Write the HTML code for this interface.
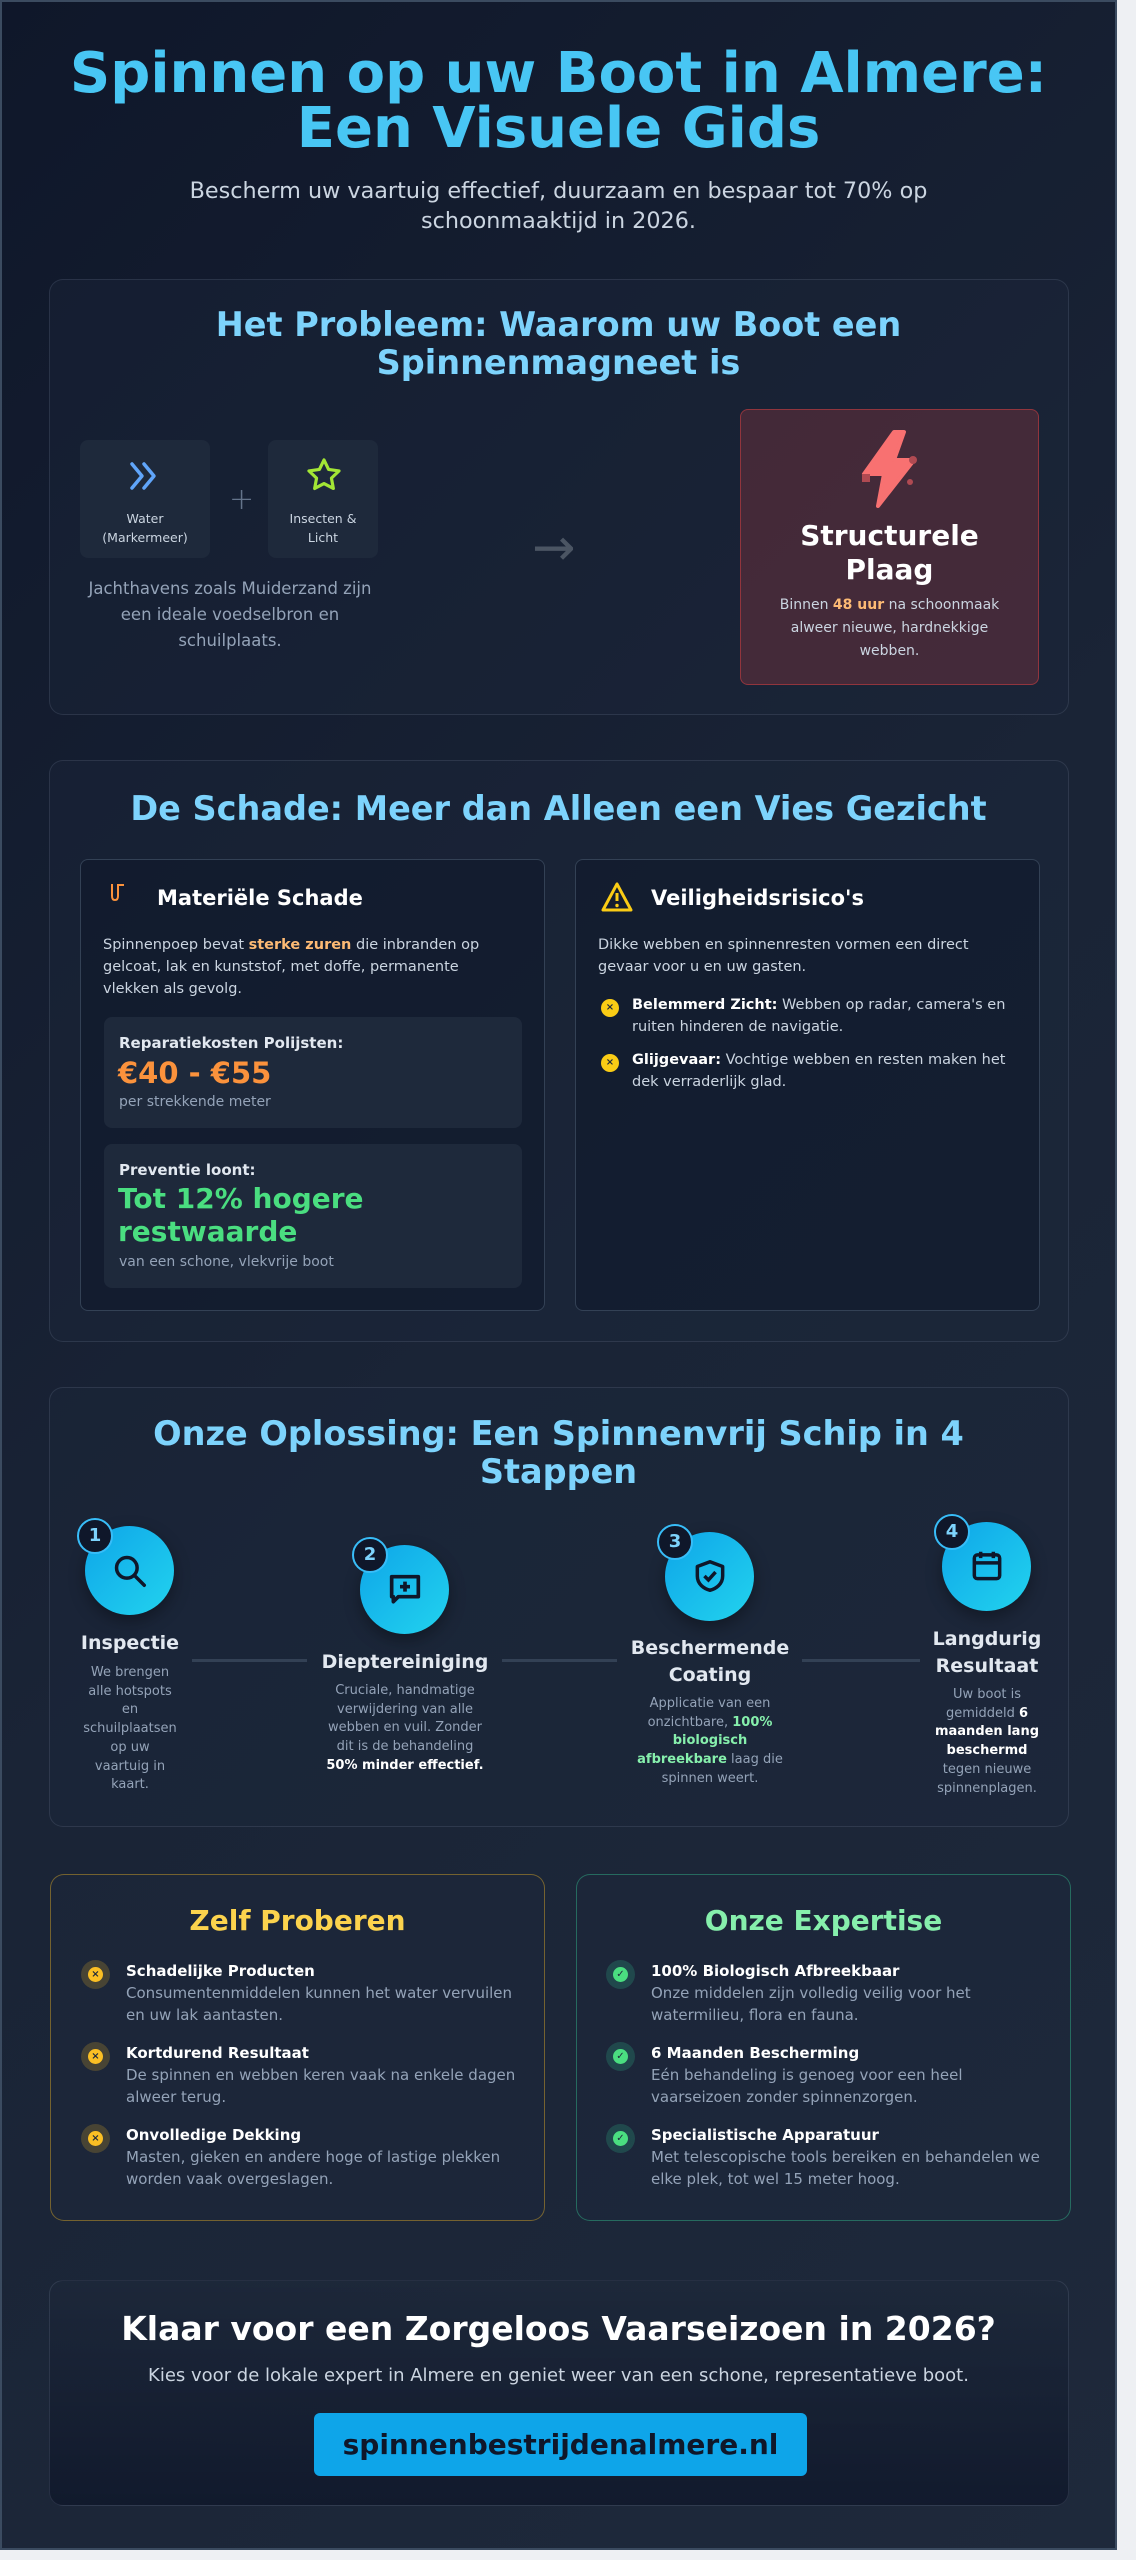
<!DOCTYPE html>
<html><head><meta charset="utf-8">
<style>
*{margin:0;padding:0;box-sizing:border-box}
body{width:1136px;height:2560px;background:#eef0f3;font-family:"DejaVu Sans","Liberation Sans",sans-serif;overflow:hidden;position:relative}
#panel{position:absolute;left:0;top:0;width:1117px;height:2550px;border:2px solid #3b4b60;background:linear-gradient(135deg,#0f172a 0%,#1a2436 50%,#1e293b 100%);overflow:hidden}
.a{position:absolute}
.c{text-align:center}
.card{position:absolute;border:1px solid rgba(148,163,184,0.16);border-radius:14px;background:rgba(30,41,59,0.35)}
.h2{position:absolute;left:0;width:100%;text-align:center;color:#7dd3fc;font-weight:bold;font-size:33.5px;line-height:38px}
.sub{position:absolute;border:1px solid #334155;border-radius:8px;background:rgba(15,23,42,0.55)}
.p{font-size:14.5px;line-height:22px;color:#cbd5e1}
.box{position:absolute;background:#1e293b;border-radius:8px}
.stc{position:absolute;width:89px;height:89px;border-radius:50%;background:linear-gradient(135deg,#0ea5e9,#22d3ee);box-shadow:0 6px 16px rgba(0,0,0,.35)}
.bd{position:absolute;width:36px;height:36px;border-radius:50%;background:#0f172a;border:2px solid #38bdf8;color:#7dd3fc;font-weight:bold;font-size:18px;line-height:32px;text-align:center;left:-8px;top:-8px}
.st{position:absolute;text-align:center;color:#e2e8f0;font-weight:bold;font-size:19px;line-height:27px}
.sd{position:absolute;text-align:center;color:#94a3b8;font-size:13px;line-height:18.7px}
.sd b{color:#fff}
.ln{position:absolute;height:3px;background:#334155;top:1657px}
.it{position:absolute;font-size:15px;line-height:22px;color:#94a3b8}
.it b{color:#fff;display:block}
.ic{position:absolute;width:29px;height:29px;border-radius:50%}
.ic i{position:absolute;left:7px;top:7px;width:15px;height:15px;border-radius:50%;font-style:normal;font-size:10px;line-height:15px;text-align:center;font-weight:bold;color:#1e293b}
</style></head><body>
<div id="panel">
<div class="a c" style="left:0;width:1113px;top:44px;font-size:56px;line-height:55px;font-weight:bold;color:#48c6f4">Spinnen op uw Boot in Almere:<br>Een Visuele Gids</div>
<div class="a c" style="left:0;width:1113px;top:174px;font-size:22.3px;line-height:30px;color:#cbd5e1">Bescherm uw vaartuig effectief, duurzaam en bespaar tot 70% op<br>schoonmaaktijd in 2026.</div>

<!-- Section 1 -->
<div class="card" style="left:47px;top:277px;width:1020px;height:436px"></div>
<div class="h2" style="top:304px;width:1113px">Het Probleem: Waarom uw Boot een<br>Spinnenmagneet is</div>
<div class="box" style="left:78px;top:438px;width:130px;height:118px"></div>
<div class="box" style="left:266px;top:438px;width:110px;height:118px"></div>
<svg class="a" style="left:126px;top:458px" width="36" height="32" viewBox="0 0 36 32"><path d="M4 4l10 12-10 12M16 4l10 12-10 12" fill="none" stroke="#60a5fa" stroke-width="3.5" stroke-linecap="round" stroke-linejoin="round"/></svg>
<svg class="a" style="left:303px;top:454px" width="38" height="38" viewBox="0 0 24 24"><path d="M12 2.5l2.9 6 6.6.9-4.8 4.6 1.2 6.5L12 17.4l-5.9 3.1 1.2-6.5L2.5 9.4l6.6-.9z" fill="none" stroke="#a3e635" stroke-width="2" stroke-linejoin="round"/></svg>
<div class="a c" style="left:78px;width:130px;top:507px;font-size:12.5px;line-height:19px;color:#cbd5e1">Water<br>(Markermeer)</div>
<div class="a c" style="left:266px;width:110px;top:507px;font-size:12.5px;line-height:19px;color:#cbd5e1">Insecten &amp;<br>Licht</div>
<div class="a" style="left:227px;top:480px;font-size:30px;color:#64748b;font-weight:200">+</div>
<div class="a c" style="left:78px;width:300px;top:574px;font-size:16.5px;line-height:26px;color:#94a3b8">Jachthavens zoals Muiderzand zijn<br>een ideale voedselbron en<br>schuilplaats.</div>
<div class="a" style="left:530px;top:516px;font-size:52px;color:#4b5563;line-height:60px">→</div>
<div class="a" style="left:738px;top:407px;width:299px;height:276px;border-radius:8px;background:rgba(239,68,68,0.2);border:1px solid rgba(239,68,68,0.45)"></div>
<svg class="a" style="left:852px;top:428px" width="72" height="78" viewBox="0 0 72 78"><path d="M40 2L10 44h20L24 76 60 30H40L50 2z" fill="#f87171" stroke="#f87171" stroke-width="4" stroke-linejoin="round"/><rect x="8" y="44" width="8" height="8" fill="#b04a52"/><circle cx="56" cy="52" r="3" fill="#b04a52"/><circle cx="59" cy="30" r="4" fill="#b04a52"/></svg>
<div class="a c" style="left:738px;width:299px;top:517px;font-size:28px;line-height:34px;font-weight:bold;color:#fff">Structurele<br>Plaag</div>
<div class="a c" style="left:758px;width:259px;top:592px;font-size:14px;line-height:23px;color:#cbd5e1">Binnen <b style="color:#fdba74">48 uur</b> na schoonmaak alweer nieuwe, hardnekkige webben.</div>

<!-- Section 2 -->
<div class="card" style="left:47px;top:758px;width:1020px;height:582px"></div>
<div class="h2" style="top:788px;width:1113px">De Schade: Meer dan Alleen een Vies Gezicht</div>
<div class="sub" style="left:78px;top:857px;width:465px;height:452px"></div>
<div class="sub" style="left:573px;top:857px;width:465px;height:452px"></div>
<svg class="a" style="left:106px;top:880px" width="22" height="22" viewBox="0 0 22 22"><path d="M4 2v12q0 4 3 4t3-4V2M10 3h6" fill="none" stroke="#fb923c" stroke-width="2"/></svg>
<div class="a" style="left:155px;top:884px;font-size:21px;font-weight:bold;color:#fff">Materiële Schade</div>
<div class="a p" style="left:101px;top:932px;width:400px">Spinnenpoep bevat <b style="color:#fdba74">sterke zuren</b> die inbranden op gelcoat, lak en kunststof, met doffe, permanente vlekken als gevolg.</div>
<div class="box" style="left:102px;top:1015px;width:418px;height:111px"></div>
<div class="a" style="left:117px;top:1032px;font-size:15px;font-weight:bold;color:#e2e8f0">Reparatiekosten Polijsten:</div>
<div class="a" style="left:116px;top:1054px;font-size:29px;font-weight:bold;color:#fb923c">€40 - €55</div>
<div class="a" style="left:117px;top:1092px;font-size:14px;color:#94a3b8">per strekkende meter</div>
<div class="box" style="left:102px;top:1142px;width:418px;height:144px"></div>
<div class="a" style="left:117px;top:1159px;font-size:15px;font-weight:bold;color:#e2e8f0">Preventie loont:</div>
<div class="a" style="left:116px;top:1180px;font-size:28px;line-height:33px;font-weight:bold;color:#4ade80">Tot 12% hogere<br>restwaarde</div>
<div class="a" style="left:117px;top:1252px;font-size:14px;color:#94a3b8">van een schone, vlekvrije boot</div>
<svg class="a" style="left:599px;top:880px" width="32" height="30" viewBox="0 0 32 30"><path d="M16 2L2 28h28z" fill="none" stroke="#facc15" stroke-width="3" stroke-linejoin="round"/><path d="M16 11v8" stroke="#facc15" stroke-width="3"/><circle cx="16" cy="23.5" r="1.7" fill="#facc15"/></svg>
<div class="a" style="left:649px;top:884px;font-size:21px;font-weight:bold;color:#fff">Veiligheidsrisico's</div>
<div class="a p" style="left:596px;top:932px;width:410px">Dikke webben en spinnenresten vormen een direct<br>gevaar voor u en uw gasten.</div>
<div class="ic" style="left:599px;top:997px;width:18px;height:18px;background:#facc15;font-size:10px;line-height:18px;text-align:center;color:#1e293b;font-weight:bold">×</div>
<div class="a p" style="left:630px;top:992px;width:400px;font-size:14.5px"><b style="color:#fff">Belemmerd Zicht:</b> Webben op radar, camera's en ruiten hinderen de navigatie.</div>
<div class="ic" style="left:599px;top:1052px;width:18px;height:18px;background:#facc15;font-size:10px;line-height:18px;text-align:center;color:#1e293b;font-weight:bold">×</div>
<div class="a p" style="left:630px;top:1047px;width:400px;font-size:14.5px"><b style="color:#fff">Glijgevaar:</b> Vochtige webben en resten maken het dek verraderlijk glad.</div>

<!-- Section 3 -->
<div class="card" style="left:47px;top:1385px;width:1020px;height:440px"></div>
<div class="h2" style="top:1413px;width:1113px">Onze Oplossing: Een Spinnenvrij Schip in 4<br>Stappen</div>
<div class="ln" style="left:190px;width:115px"></div>
<div class="ln" style="left:500px;width:115px"></div>
<div class="ln" style="left:800px;width:118px"></div>
<div class="stc" style="left:83px;top:1524px"><div class="bd">1</div><svg class="a" style="left:26px;top:26px" width="38" height="38" viewBox="0 0 24 24"><circle cx="10" cy="10" r="6.5" fill="none" stroke="#0f172a" stroke-width="2.2"/><path d="M15 15l6 6" stroke="#0f172a" stroke-width="2.2" stroke-linecap="round"/></svg></div>
<div class="stc" style="left:358px;top:1543px"><div class="bd">2</div><svg class="a" style="left:25px;top:25px" width="40" height="40" viewBox="0 0 24 24"><path d="M4 4h16v12H8l-3 3v-3H4z" fill="none" stroke="#0f172a" stroke-width="2.2" stroke-linejoin="round"/><path d="M12 7v6M9 10h6" stroke="#0f172a" stroke-width="2.2"/></svg></div>
<div class="stc" style="left:663px;top:1530px"><div class="bd">3</div><svg class="a" style="left:26px;top:25px" width="38" height="38" viewBox="0 0 24 24"><path d="M12 3l8 3v6c0 5-4 8-8 9-4-1-8-4-8-9V6z" fill="none" stroke="#0f172a" stroke-width="2.2" stroke-linejoin="round"/><path d="M8.5 12l2.5 2.5 4.5-5" fill="none" stroke="#0f172a" stroke-width="2.2"/></svg></div>
<div class="stc" style="left:940px;top:1520px"><div class="bd">4</div><svg class="a" style="left:26px;top:25px" width="38" height="38" viewBox="0 0 24 24"><rect x="4" y="5" width="16" height="15" rx="2" fill="none" stroke="#0f172a" stroke-width="2.2"/><path d="M4 10h16M8 3v4M16 3v4" stroke="#0f172a" stroke-width="2.2"/></svg></div>
<div class="st" style="left:68px;width:120px;top:1628px">Inspectie</div>
<div class="sd" style="left:78px;width:100px;top:1662px">We brengen<br>alle hotspots<br>en<br>schuilplaatsen<br>op uw<br>vaartuig in<br>kaart.</div>
<div class="st" style="left:310px;width:186px;top:1647px">Dieptereiniging</div>
<div class="sd" style="left:320px;width:166px;top:1680px">Cruciale, handmatige verwijdering van alle webben en vuil. Zonder dit is de behandeling <b>50% minder effectief.</b></div>
<div class="st" style="left:618px;width:180px;top:1633px">Beschermende<br>Coating</div>
<div class="sd" style="left:630px;width:156px;top:1693px">Applicatie van een onzichtbare, <b style="color:#86efac">100% biologisch afbreekbare</b> laag die spinnen weert.</div>
<div class="st" style="left:920px;width:130px;top:1624px">Langdurig<br>Resultaat</div>
<div class="sd" style="left:930px;width:110px;top:1684px">Uw boot is gemiddeld <b>6 maanden lang beschermd</b> tegen nieuwe spinnenplagen.</div>

<!-- Section 4 -->
<div class="a" style="left:48px;top:1872px;width:495px;height:347px;border:1px solid rgba(251,191,36,0.4);border-radius:14px;background:rgba(30,41,59,0.4)"></div>
<div class="a" style="left:574px;top:1872px;width:495px;height:347px;border:1px solid rgba(52,211,153,0.4);border-radius:14px;background:rgba(30,41,59,0.4)"></div>
<div class="a c" style="left:48px;width:495px;top:1902px;font-size:28px;font-weight:bold;color:#fcd34d">Zelf Proberen</div>
<div class="a c" style="left:574px;width:495px;top:1902px;font-size:28px;font-weight:bold;color:#86efac">Onze Expertise</div>

<div class="ic" style="left:79px;top:1958px;background:rgba(251,191,36,0.2)"><i style="background:#fbbf24">×</i></div>
<div class="it" style="left:124px;top:1958px;width:400px"><b>Schadelijke Producten</b>Consumentenmiddelen kunnen het water vervuilen en uw lak aantasten.</div>
<div class="ic" style="left:79px;top:2040px;background:rgba(251,191,36,0.2)"><i style="background:#fbbf24">×</i></div>
<div class="it" style="left:124px;top:2040px;width:400px"><b>Kortdurend Resultaat</b>De spinnen en webben keren vaak na enkele dagen alweer terug.</div>
<div class="ic" style="left:79px;top:2122px;background:rgba(251,191,36,0.2)"><i style="background:#fbbf24">×</i></div>
<div class="it" style="left:124px;top:2122px;width:400px"><b>Onvolledige Dekking</b>Masten, gieken en andere hoge of lastige plekken worden vaak overgeslagen.</div>

<div class="ic" style="left:604px;top:1958px;background:rgba(52,211,153,0.2)"><i style="background:#4ade80">✓</i></div>
<div class="it" style="left:649px;top:1958px;width:400px"><b>100% Biologisch Afbreekbaar</b>Onze middelen zijn volledig veilig voor het watermilieu, flora en fauna.</div>
<div class="ic" style="left:604px;top:2040px;background:rgba(52,211,153,0.2)"><i style="background:#4ade80">✓</i></div>
<div class="it" style="left:649px;top:2040px;width:400px"><b>6 Maanden Bescherming</b>Eén behandeling is genoeg voor een heel vaarseizoen zonder spinnenzorgen.</div>
<div class="ic" style="left:604px;top:2122px;background:rgba(52,211,153,0.2)"><i style="background:#4ade80">✓</i></div>
<div class="it" style="left:649px;top:2122px;width:400px"><b>Specialistische Apparatuur</b>Met telescopische tools bereiken en behandelen we elke plek, tot wel 15 meter hoog.</div>

<!-- CTA -->
<div class="card" style="left:47px;top:2278px;width:1020px;height:226px;background:linear-gradient(180deg,rgba(30,41,59,0.6),rgba(15,23,42,0.8))"></div>
<div class="a c" style="left:0;width:1113px;top:2307px;font-size:33px;font-weight:bold;color:#fff">Klaar voor een Zorgeloos Vaarseizoen in 2026?</div>
<div class="a c" style="left:0;width:1113px;top:2363px;font-size:18px;color:#cbd5e1">Kies voor de lokale expert in Almere en geniet weer van een schone, representatieve boot.</div>
<div class="a c" style="left:312px;top:2411px;width:493px;height:63px;background:#0ea5e9;border-radius:6px;font-size:28px;line-height:63px;font-weight:bold;color:#0f172a">spinnenbestrijdenalmere.nl</div>
</div>
</body></html>
